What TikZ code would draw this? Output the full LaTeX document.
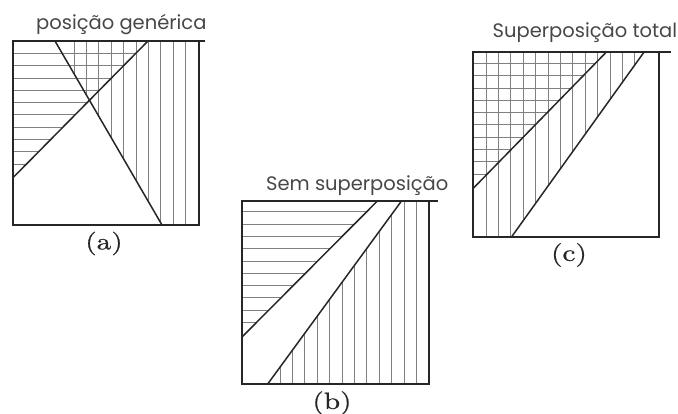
\documentclass[tikz,border=0pt]{standalone}
\usepackage{fontspec}
\newfontfamily\titlefont{Poppins}
\newfontfamily\lblfont{lmroman10-regular}[Extension=.otf,FakeStretch=1.25,FakeBold=0.7]
\begin{document}
\begin{tikzpicture}[x=1pt,y=-1pt,
  frame/.style={draw=black!85,line width=1.8pt},
  diag/.style={draw=black!85,line width=1.5pt},
  hatch/.style={draw=black!50,line width=0.7pt},
  ttl/.style={font=\titlefont\fontsize{19.5}{22}\selectfont,text=black!72,anchor=base west,inner sep=0pt},
  lbl/.style={font=\lblfont\fontsize{23.5}{25}\selectfont,text=black!85,inner sep=0pt}]
\useasboundingbox (0,0) rectangle (678,414);
% ---------- panel (a)
\coordinate (aTL) at (12.7,41);
\coordinate (aTR) at (199,41);
\coordinate (aBR) at (199,225);
\coordinate (aBL) at (12.7,225);
\coordinate (aTE) at (205,41);
\coordinate (a1s) at (55,41);
\coordinate (a1e) at (162,225);
\coordinate (a2s) at (12.7,178);
\coordinate (a2e) at (148,41);
\begin{scope}
  \clip (aTL) -- (a2e) -- (a2s) -- cycle;
  \foreach \k in {0,...,9} \draw[hatch] (12.7,53.3+12.3*\k) -- (199,53.3+12.3*\k);
\end{scope}
\begin{scope}
  \clip (a1s) -- (aTR) -- (aBR) -- (a1e) -- cycle;
  \foreach \k in {0,...,9} \draw[hatch] (74+12.4*\k,41) -- (74+12.4*\k,225);
\end{scope}
\draw[diag] (a1s) -- (a1e);
\draw[diag] (a2s) -- (a2e);
\draw[frame] (aTR) -- (aBR) -- (aBL) -- (aTL) -- (aTE);
\node[ttl] (ta) at (36,30) {posição genérica};
\node[lbl] (la) at (104,243.5) {(a)};
% ---------- panel (b)
\coordinate (bTL) at (242.3,200.7);
\coordinate (bTR) at (429,200.7);
\coordinate (bBR) at (429,384);
\coordinate (bBL) at (242.3,384);
\coordinate (bTE) at (438,200.7);
\coordinate (bAs) at (242.3,336.7);
\coordinate (bAe) at (377.7,200.7);
\coordinate (bBs) at (267.7,384);
\coordinate (bBe) at (401.7,200.7);
\begin{scope}
  \clip (bTL) -- (bAe) -- (bAs) -- cycle;
  \foreach \k in {0,...,9} \draw[hatch] (242.3,211.7+12.3*\k) -- (429,211.7+12.3*\k);
\end{scope}
\begin{scope}
  \clip (bBs) -- (bBe) -- (bTR) -- (bBR) -- cycle;
  \foreach \k in {0,...,11} \draw[hatch] (280+12.4*\k,200.7) -- (280+12.4*\k,384);
\end{scope}
\draw[diag] (bAs) -- (bAe);
\draw[diag] (bBs) -- (bBe);
\draw[frame] (bTR) -- (bBR) -- (bBL) -- (bTL) -- (bTE);
\node[ttl] (tb) at (266,191) {Sem superposição};
\node[lbl] (lb) at (332,403) {(b)};
% ---------- panel (c)
\coordinate (cTL) at (473.3,51.7);
\coordinate (cTR) at (659.3,51.7);
\coordinate (cBR) at (659.3,236.7);
\coordinate (cBL) at (473.3,236.7);
\coordinate (cTE) at (670.7,51.7);
\coordinate (cAs) at (473.3,188.3);
\coordinate (cAe) at (606.7,51.7);
\coordinate (cBs) at (511.7,236.7);
\coordinate (cBe) at (644.3,51.7);
\begin{scope}
  \clip (cTL) -- (cAe) -- (cAs) -- cycle;
  \foreach \k in {0,...,9} \draw[hatch] (473.3,63.3+12.3*\k) -- (659.3,63.3+12.3*\k);
\end{scope}
\begin{scope}
  \clip (cTL) -- (cBe) -- (cBs) -- (cBL) -- cycle;
  \foreach \k in {0,...,12} \draw[hatch] (486+12.4*\k,51.7) -- (486+12.4*\k,236.7);
\end{scope}
\draw[diag] (cAs) -- (cAe);
\draw[diag] (cBs) -- (cBe);
\draw[frame] (cTR) -- (cBR) -- (cBL) -- (cTL) -- (cTE);
\node[ttl] (tc) at (492.5,37.3) {Superposição total};
\node[lbl] (lc) at (569,255) {(c)};
\end{tikzpicture}
\end{document}
